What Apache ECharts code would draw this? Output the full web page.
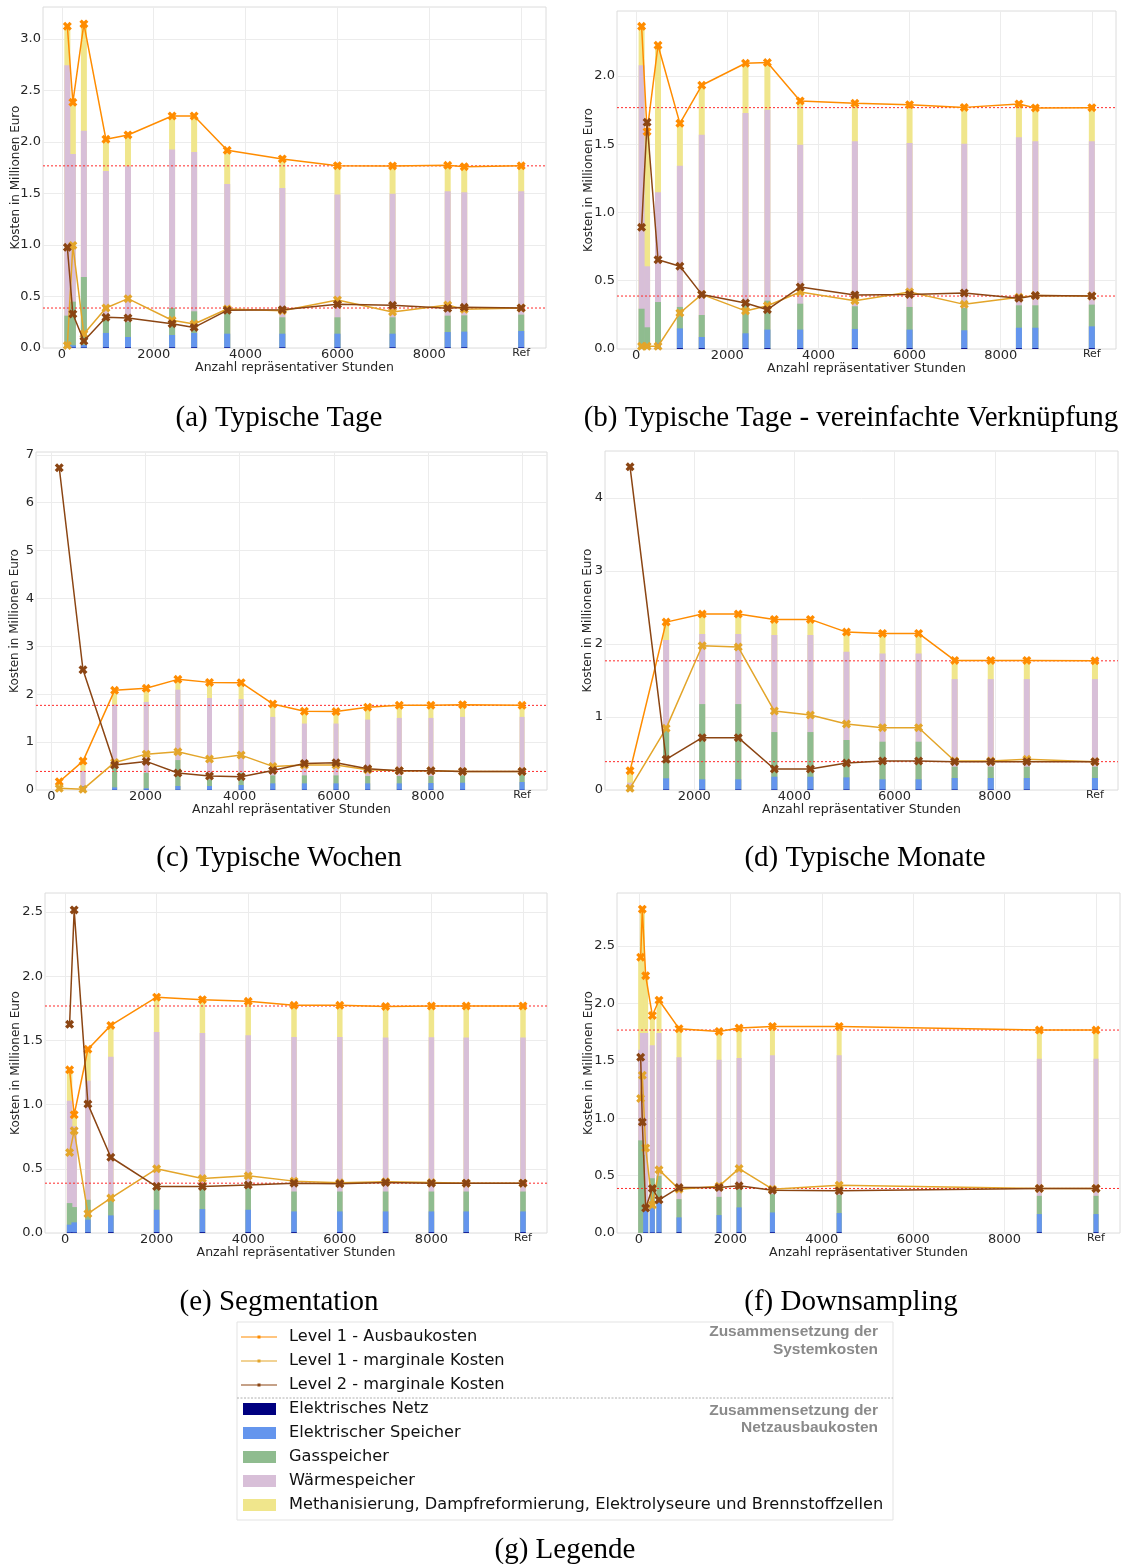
<!DOCTYPE html>
<html>
<head>
<meta charset="utf-8">
<script src="https://cdn.jsdelivr.net/npm/echarts@6/dist/echarts.min.js"></script>
<style>
html, body { margin: 0; padding: 0; background: #fff; }
#chart { width: 1121px; height: 1564px; }
</style>
</head>
<body>
<div id="chart"></div>
<script>
// "Ref" (full hourly reference model) is placed at x = 10000
const REF = 10000;

// tick labels
const xTicksFull = [0, 2000, 4000, 6000, 8000, REF];
const xTicksMonate = [2000, 4000, 6000, 8000, REF];
const yTicks30 = [0, 0.5, 1.0, 1.5, 2.0, 2.5, 3.0];
const yTicks20 = [0, 0.5, 1.0, 1.5, 2.0];
const yTicks25 = [0, 0.5, 1.0, 1.5, 2.0, 2.5];
const yTicks7 = [0, 1, 2, 3, 4, 5, 6, 7];
const yTicks4 = [0, 1, 2, 3, 4];

// (a) Typische Tage
const tageHours    = [120, 240, 480, 960, 1440, 2400, 2880, 3600, 4800, 6000, 7200, 8400, 8760, REF];
const tageNetz     = [0, 0.004, 0.004, 0.006, 0.006, 0.006, 0.006, 0.006, 0.006, 0.006, 0.006, 0.006, 0.006, 0.006];
const tageElSp     = [0, 0.022, 0.026, 0.140, 0.101, 0.120, 0.140, 0.133, 0.133, 0.133, 0.133, 0.149, 0.153, 0.159];
const tageGas      = [0.314, 0.424, 0.659, 0.154, 0.149, 0.262, 0.210, 0.201, 0.159, 0.159, 0.159, 0.159, 0.158, 0.159];
const tageWaerme   = [2.430, 1.433, 1.421, 1.418, 1.508, 1.538, 1.547, 1.252, 1.255, 1.191, 1.200, 1.207, 1.194, 1.197];
const tageMethan   = [0.379, 0.502, 1.036, 0.308, 0.304, 0.326, 0.349, 0.327, 0.282, 0.281, 0.269, 0.252, 0.249, 0.247];
const tageAusbau   = [3.123, 2.385, 3.146, 2.026, 2.068, 2.252, 2.252, 1.919, 1.835, 1.770, 1.767, 1.773, 1.760, 1.768];
const tageMarg1    = [0.025, 0.996, 0.136, 0.388, 0.479, 0.269, 0.233, 0.379, 0.362, 0.466, 0.350, 0.417, 0.375, 0.388];
const tageMarg2    = [0.977, 0.330, 0.068, 0.298, 0.291, 0.236, 0.200, 0.366, 0.372, 0.424, 0.414, 0.385, 0.395, 0.388];

// (b) Typische Tage - vereinfachte Verknüpfung
const vereinfHours  = [120, 240, 480, 960, 1440, 2400, 2880, 3600, 4800, 6000, 7200, 8400, 8760, REF];
const vereinfNetz   = [0, 0, 0.004, 0.006, 0.006, 0.006, 0.006, 0.006, 0.006, 0.006, 0.006, 0.006, 0.006, 0.006];
const vereinfElSp   = [0, 0, 0.040, 0.145, 0.082, 0.109, 0.136, 0.136, 0.141, 0.136, 0.131, 0.150, 0.150, 0.160];
const vereinfGas    = [0.295, 0.159, 0.300, 0.157, 0.161, 0.225, 0.212, 0.190, 0.166, 0.166, 0.163, 0.164, 0.164, 0.159];
const vereinfWaerme = [1.783, 0.447, 0.804, 1.035, 1.321, 1.389, 1.399, 1.165, 1.208, 1.201, 1.204, 1.231, 1.201, 1.196];
const vereinfMethan = [0.286, 0.986, 1.077, 0.310, 0.362, 0.364, 0.345, 0.320, 0.279, 0.281, 0.266, 0.244, 0.245, 0.247];
const vereinfAusbau = [2.364, 1.592, 2.225, 1.653, 1.932, 2.093, 2.098, 1.817, 1.800, 1.790, 1.770, 1.795, 1.766, 1.768];
const vereinfMarg1  = [0.020, 0.020, 0.020, 0.264, 0.400, 0.279, 0.317, 0.418, 0.354, 0.418, 0.327, 0.379, 0.391, 0.388];
const vereinfMarg2  = [0.891, 1.661, 0.654, 0.606, 0.400, 0.337, 0.288, 0.454, 0.396, 0.400, 0.410, 0.371, 0.391, 0.388];

// (c) Typische Wochen
const wochenHours  = [168, 672, 1344, 2016, 2688, 3360, 4032, 4704, 5376, 6048, 6720, 7392, 8064, 8736, REF];
const wochenNetz   = [0, 0.004, 0.004, 0.004, 0.004, 0.004, 0.004, 0.006, 0.006, 0.006, 0.006, 0.006, 0.006, 0.006, 0.006];
const wochenElSp   = [0, 0.079, 0.051, 0.031, 0.079, 0.079, 0.100, 0.133, 0.133, 0.133, 0.133, 0.133, 0.140, 0.147, 0.161];
const wochenGas    = [0.010, 0, 0.410, 0.325, 0.542, 0.137, 0.256, 0.166, 0.166, 0.166, 0.152, 0.152, 0.145, 0.152, 0.159];
const wochenWaerme = [0.030, 0.313, 1.318, 1.479, 1.471, 1.702, 1.541, 1.222, 1.083, 1.083, 1.180, 1.215, 1.215, 1.222, 1.201];
const wochenMethan = [0.133, 0.208, 0.299, 0.285, 0.215, 0.326, 0.341, 0.270, 0.257, 0.250, 0.257, 0.264, 0.264, 0.256, 0.241];
const wochenAusbau = [0.173, 0.604, 2.082, 2.124, 2.311, 2.248, 2.242, 1.797, 1.645, 1.638, 1.728, 1.770, 1.770, 1.783, 1.768];
const wochenMarg1  = [0.035, 0.014, 0.576, 0.749, 0.798, 0.645, 0.729, 0.493, 0.520, 0.520, 0.423, 0.402, 0.402, 0.389, 0.388];
const wochenMarg2  = [6.731, 2.512, 0.520, 0.597, 0.354, 0.291, 0.278, 0.409, 0.555, 0.569, 0.444, 0.402, 0.402, 0.389, 0.388];

// (d) Typische Monate
const monateHours  = [720, 1440, 2160, 2880, 3600, 4320, 5040, 5760, 6480, 7200, 7920, 8640, REF];
const monateNetz   = [0, 0.006, 0.006, 0.006, 0.006, 0.006, 0.006, 0.006, 0.006, 0.006, 0.006, 0.006, 0.006];
const monateElSp   = [0, 0.154, 0.140, 0.140, 0.176, 0.176, 0.167, 0.140, 0.140, 0.158, 0.158, 0.158, 0.158];
const monateGas    = [0.020, 0.647, 1.030, 1.030, 0.611, 0.611, 0.511, 0.515, 0.515, 0.155, 0.155, 0.155, 0.155];
const monateWaerme = [0.080, 1.245, 0.958, 0.958, 1.327, 1.327, 1.208, 1.209, 1.209, 1.199, 1.199, 1.199, 1.199];
const monateMethan = [0.164, 0.246, 0.274, 0.274, 0.215, 0.215, 0.269, 0.273, 0.273, 0.256, 0.256, 0.256, 0.250];
const monateAusbau = [0.264, 2.298, 2.408, 2.408, 2.335, 2.335, 2.161, 2.143, 2.143, 1.774, 1.774, 1.774, 1.768];
const monateMarg1  = [0.023, 0.844, 1.974, 1.956, 1.081, 1.026, 0.903, 0.853, 0.853, 0.397, 0.397, 0.420, 0.388];
const monateMarg2  = [4.423, 0.420, 0.716, 0.716, 0.287, 0.287, 0.369, 0.397, 0.397, 0.388, 0.388, 0.388, 0.388];

// (e) Segmentation
const segHours  = [100, 200, 500, 1000, 2000, 3000, 4000, 5000, 6000, 7000, 8000, 8760, REF];
const segNetz   = [0.004, 0.004, 0.004, 0.006, 0.006, 0.006, 0.006, 0.006, 0.006, 0.006, 0.006, 0.006, 0.006];
const segElSp   = [0.061, 0.079, 0.100, 0.131, 0.175, 0.180, 0.175, 0.162, 0.162, 0.162, 0.162, 0.162, 0.162];
const segGas    = [0.168, 0.119, 0.155, 0.135, 0.168, 0.163, 0.168, 0.155, 0.155, 0.155, 0.155, 0.155, 0.155];
const segWaerme = [0.797, 0.630, 0.926, 1.100, 1.217, 1.209, 1.191, 1.204, 1.204, 1.199, 1.202, 1.199, 1.199];
const segMethan = [0.241, 0.089, 0.246, 0.245, 0.271, 0.259, 0.264, 0.246, 0.246, 0.243, 0.243, 0.246, 0.246];
const segAusbau = [1.271, 0.921, 1.431, 1.617, 1.837, 1.817, 1.804, 1.773, 1.773, 1.765, 1.768, 1.768, 1.768];
const segMarg1  = [0.626, 0.797, 0.150, 0.272, 0.500, 0.424, 0.445, 0.404, 0.391, 0.399, 0.393, 0.388, 0.388];
const segMarg2  = [1.625, 2.516, 1.004, 0.590, 0.362, 0.362, 0.373, 0.388, 0.383, 0.393, 0.388, 0.388, 0.388];

// (f) Downsampling
const downHours  = [37, 73, 146, 292, 438, 876, 1752, 2190, 2920, 4380, 8760, REF];
const downNetz   = [0, 0, 0.004, 0.004, 0.004, 0.006, 0.006, 0.006, 0.006, 0.006, 0.006, 0.006];
const downElSp   = [0, 0, 0.204, 0.219, 0.274, 0.130, 0.150, 0.217, 0.173, 0.168, 0.159, 0.159];
const downGas    = [0.807, 0.680, 0.020, 0.254, 0.220, 0.159, 0.159, 0.159, 0.160, 0.159, 0.159, 0.159];
const downWaerme = [0.790, 1.062, 1.514, 1.158, 1.244, 1.236, 1.195, 1.143, 1.209, 1.215, 1.195, 1.195];
const downMethan = [0.805, 1.079, 0.500, 0.260, 0.286, 0.249, 0.246, 0.260, 0.252, 0.252, 0.249, 0.249];
const downAusbau = [2.402, 2.821, 2.242, 1.895, 2.028, 1.780, 1.756, 1.785, 1.800, 1.800, 1.768, 1.768];
const downMarg1  = [1.172, 1.374, 0.741, 0.243, 0.550, 0.382, 0.408, 0.561, 0.382, 0.417, 0.388, 0.388];
const downMarg2  = [1.531, 0.966, 0.217, 0.388, 0.289, 0.396, 0.396, 0.411, 0.373, 0.367, 0.388, 0.388];

// series names and colours
const STACK_NAMES = ['Elektrisches Netz', 'Elektrischer Speicher', 'Gasspeicher', 'Wärmespeicher',
  'Methanisierung, Dampfreformierung, Elektrolyseure und Brennstoffzellen'];
const STACK_COLORS = ['#000080', '#6495ED', '#8FBC8F', '#D8BFD8', '#F0E68C'];
const LINE_NAMES = ['Level 1 - Ausbaukosten', 'Level 1 - marginale Kosten', 'Level 2 - marginale Kosten'];
const LINE_COLORS = ['#FF8C00', '#E3A52A', '#8B4513'];
const REF_COLOR = '#ff2a2a';

const FONT = 'DejaVu Sans';
const TXT = '#262626';
const X_MARK = 'path://M0,2.6L2.6,0L5,2.4L7.4,0L10,2.6L7.6,5L10,7.4L7.4,10L5,7.6L2.6,10L0,7.4L2.4,5Z';

const panels = [
  { hours: tageHours, stacks: [tageNetz, tageElSp, tageGas, tageWaerme, tageMethan],
    lines: [tageAusbau, tageMarg1, tageMarg2], xTicks: xTicksFull, yTicks: yTicks30, dec: 1,
    grid: { left: 43, top: 7, width: 503, height: 341 }, xMin: -410, xMax: 10540, yMax: 3.31, barW: 6, yGap: 21 },
  { hours: vereinfHours, stacks: [vereinfNetz, vereinfElSp, vereinfGas, vereinfWaerme, vereinfMethan],
    lines: [vereinfAusbau, vereinfMarg1, vereinfMarg2], xTicks: xTicksFull, yTicks: yTicks20, dec: 1,
    grid: { left: 617, top: 11, width: 499, height: 338 }, xMin: -420, xMax: 10530, yMax: 2.476, barW: 6, yGap: 22 },
  { hours: wochenHours, stacks: [wochenNetz, wochenElSp, wochenGas, wochenWaerme, wochenMethan],
    lines: [wochenAusbau, wochenMarg1, wochenMarg2], xTicks: xTicksFull, yTicks: yTicks7, dec: 0,
    grid: { left: 36, top: 452, width: 511, height: 338 }, xMin: -326, xMax: 10530, yMax: 7.06, barW: 5, yGap: 15 },
  { hours: monateHours, stacks: [monateNetz, monateElSp, monateGas, monateWaerme, monateMethan],
    lines: [monateAusbau, monateMarg1, monateMarg2], xTicks: xTicksMonate, yTicks: yTicks4, dec: 0,
    grid: { left: 605, top: 451, width: 513, height: 339 }, xMin: 220, xMax: 10460, yMax: 4.64, barW: 6, yGap: 11 },
  { hours: segHours, stacks: [segNetz, segElSp, segGas, segWaerme, segMethan],
    lines: [segAusbau, segMarg1, segMarg2], xTicks: xTicksFull, yTicks: yTicks25, dec: 1,
    grid: { left: 45, top: 893, width: 502, height: 340 }, xMin: -437, xMax: 10524, yMax: 2.648, barW: 5.5, yGap: 23 },
  { hours: downHours, stacks: [downNetz, downElSp, downGas, downWaerme, downMethan],
    lines: [downAusbau, downMarg1, downMarg2], xTicks: xTicksFull, yTicks: yTicks25, dec: 1,
    grid: { left: 617, top: 893, width: 503, height: 340 }, xMin: -481, xMax: 10525, yMax: 2.962, barW: 5, yGap: 22 }
];

const grids = [], xAxes = [], yAxes = [], series = [];
const pairs = (xs, ys) => xs.map((x, i) => [x, ys[i]]);
const last = arr => arr[arr.length - 1];

// cumulative top of each cost component, so that overlapping bars form the stack
function cumulative(stacks) {
  const out = [];
  let acc = stacks[0].map(() => 0);
  stacks.forEach(vals => {
    acc = acc.map((a, j) => a + vals[j]);
    out.push(acc.slice());
  });
  return out;
}

panels.forEach((p, i) => {
  grids.push(Object.assign({ show: true, borderColor: '#dcdcdc', borderWidth: 1, backgroundColor: '#fff' }, p.grid));
  xAxes.push({
    gridIndex: i, type: 'value', min: p.xMin, max: p.xMax,
    axisLine: { show: false },
    axisTick: { show: false, customValues: p.xTicks },
    axisLabel: {
      customValues: p.xTicks, margin: 0, fontSize: 13, fontFamily: FONT, color: TXT,
      formatter: v => (v === REF ? '{r|Ref}' : String(v)),
      rich: { r: { fontSize: 11, fontFamily: FONT, color: TXT } }
    },
    splitLine: { show: true, lineStyle: { color: '#ececec', width: 1 } },
    name: 'Anzahl repräsentativer Stunden', nameLocation: 'middle', nameGap: 13, nameMoveOverlap: false,
    nameTextStyle: { fontSize: 12.5, fontFamily: FONT, color: TXT }
  });
  yAxes.push({
    gridIndex: i, type: 'value', min: 0, max: p.yMax,
    axisLine: { show: false },
    axisTick: { show: false, customValues: p.yTicks },
    axisLabel: {
      customValues: p.yTicks, margin: 2, fontSize: 13, fontFamily: FONT, color: TXT,
      formatter: v => v.toFixed(p.dec)
    },
    splitLine: { show: true, lineStyle: { color: '#ececec', width: 1 } },
    name: 'Kosten in Millionen Euro', nameLocation: 'middle', nameGap: p.yGap, nameMoveOverlap: false,
    nameTextStyle: { fontSize: 12, fontFamily: FONT, color: TXT }
  });

  // cost composition: tallest (total) bar first, lower components drawn over it
  const tops = cumulative(p.stacks);
  for (let k = tops.length - 1; k >= 0; k--) {
    series.push({
      type: 'bar', name: STACK_NAMES[k], xAxisIndex: i, yAxisIndex: i,
      barWidth: p.barW, barGap: '-100%', data: pairs(p.hours, tops[k]), z: 2,
      itemStyle: { color: STACK_COLORS[k] }, emphasis: { disabled: true }
    });
  }

  // dotted reference levels: the Ref run's expansion cost and marginal cost
  [p.lines[0], p.lines[1]].forEach(vals => {
    series.push({
      type: 'line', name: 'Ref', xAxisIndex: i, yAxisIndex: i, silent: true,
      data: [[p.xMin, last(vals)], [p.xMax, last(vals)]], symbol: 'none', z: 4,
      lineStyle: { color: REF_COLOR, type: [2, 2], width: 1 }, emphasis: { disabled: true }
    });
  });

  // cost curves
  p.lines.forEach((vals, k) => {
    series.push({
      type: 'line', name: LINE_NAMES[k], xAxisIndex: i, yAxisIndex: i,
      data: pairs(p.hours, vals), z: 5 + k,
      symbol: X_MARK, symbolSize: 9, showSymbol: true,
      itemStyle: { color: LINE_COLORS[k] },
      lineStyle: { color: LINE_COLORS[k], width: 1.5 },
      emphasis: { disabled: true }
    });
  });
});

// captions under each panel
const CAPTION_FONT = '29px "Liberation Serif", "DejaVu Serif", serif';
const captions = [
  ['(a) Typische Tage', 279, 418],
  ['(b) Typische Tage - vereinfachte Verknüpfung', 851, 418],
  ['(c) Typische Wochen', 279, 858],
  ['(d) Typische Monate', 865, 858],
  ['(e) Segmentation', 279, 1302],
  ['(f) Downsampling', 851, 1302],
  ['(g) Legende', 565, 1550]
];

const graphic = captions.map(([t, x, y]) => ({
  type: 'text', x, y,
  style: { text: t, font: CAPTION_FONT, fill: '#000', textAlign: 'center', textVerticalAlign: 'middle' }
}));

// legend box
const LEG = { left: 237, top: 1322, right: 893, bottom: 1520 };
graphic.push({
  type: 'rect', shape: { x: LEG.left, y: LEG.top, width: LEG.right - LEG.left, height: LEG.bottom - LEG.top },
  style: { fill: '#fff', stroke: '#e3e3e3', lineWidth: 1 }, z: 0
});
graphic.push({
  type: 'line', shape: { x1: LEG.left, y1: 1398, x2: LEG.right, y2: 1398 },
  style: { stroke: '#b0b0b0', lineWidth: 1, lineDash: [2, 1.5] }, z: 1
});
const LEG_TEXT = { fontSize: 16.2, fontFamily: FONT, fill: '#111', textVerticalAlign: 'middle' };
LINE_NAMES.forEach((n, k) => {
  const y = 1337 + 24 * k;
  graphic.push({ type: 'line', shape: { x1: 241, y1: y, x2: 277, y2: y },
    style: { stroke: LINE_COLORS[k], lineWidth: 1.2 }, z: 2 });
  graphic.push({ type: 'rect', shape: { x: 257.5, y: y - 1.5, width: 3, height: 3 },
    style: { fill: LINE_COLORS[k] }, z: 3 });
  graphic.push({ type: 'text', x: 289, y, style: Object.assign({ text: n }, LEG_TEXT), z: 3 });
});
STACK_NAMES.forEach((n, k) => {
  const y = 1409 + 24 * k;
  graphic.push({ type: 'rect', shape: { x: 243, y: y - 6, width: 33, height: 12 },
    style: { fill: STACK_COLORS[k] }, z: 2 });
  graphic.push({ type: 'text', x: 289, y, style: Object.assign({ text: n }, LEG_TEXT), z: 3 });
});
const HEAD = { font: 'bold 15.5px "Liberation Sans", Arial, sans-serif', fill: '#8a8a8a', textAlign: 'right', textVerticalAlign: 'middle' };
[['Zusammensetzung der', 1332], ['Systemkosten', 1350], ['Zusammensetzung der', 1411], ['Netzausbaukosten', 1428]]
  .forEach(([t, y]) => graphic.push({ type: 'text', x: 878, y, style: Object.assign({ text: t }, HEAD), z: 3 }));

const chart = echarts.init(document.getElementById('chart'), null, { renderer: 'canvas' });
chart.setOption({
  animation: false,
  backgroundColor: '#fff',
  grid: grids,
  xAxis: xAxes,
  yAxis: yAxes,
  series,
  graphic
});
</script>
</body>
</html>
